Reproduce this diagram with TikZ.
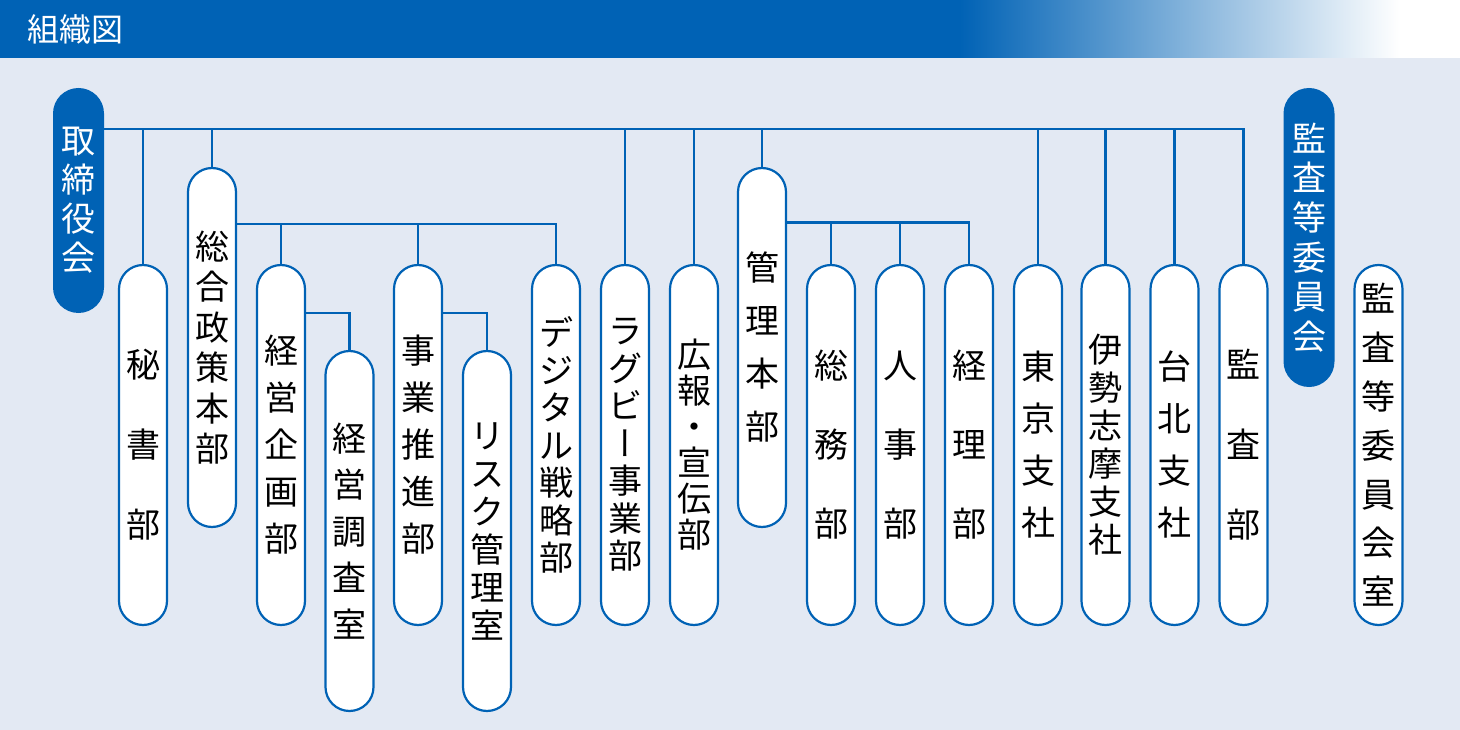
\documentclass[tikz,border=0pt]{standalone}
\usepackage{fontspec}
\newfontfamily\cjk{Noto Sans CJK JP}
\newfontfamily\cjkv[RawFeature=+vert]{Noto Sans CJK JP}
\definecolor{mainblue}{HTML}{0062B5}
\definecolor{bgblue}{HTML}{E3E9F3}
\begin{document}
\begin{tikzpicture}[x=1pt,y=-1pt,
  pitch/.style={font=\cjk\fontsize{34}{#1}\selectfont},
  box/.style={draw=mainblue, line width=2.2pt, fill=white, rounded corners=24pt,
    minimum width=48pt, inner sep=0pt, align=center, text=black},
  boss/.style={fill=mainblue, rounded corners=25.5pt, minimum width=51pt,
    inner sep=0pt, align=center, text=white},
  link/.style={draw=mainblue, line width=2.2pt},
]
\useasboundingbox (0,0) rectangle (1460,730);
% background and header
\fill[bgblue] (0,58) rectangle (1460,730);
\fill[mainblue] (0,0) rectangle (960,58);
\shade[left color=mainblue, right color=white] (959.5,0) rectangle (1400,58);
\fill[white] (1400,0) rectangle (1460,58);
\node[anchor=west, inner sep=0pt, text=white, font=\cjk\fontsize{32}{38}\selectfont] (title) at (27,29) {組織図};

% top bodies
\node[boss, pitch=39, minimum height=225pt] (tori) at (78.5,200.5) {取\\締\\役\\会};
\node[boss, pitch=39.6, minimum height=299pt] (iinkai) at (1309,237.5) {監\\査\\等\\委\\員\\会};

% departments
\node[box, pitch=80, minimum height=360pt] (hisho) at (143,445) {秘\\書\\部};
\node[box, pitch=40.5, minimum height=359pt] (sogo) at (212,347.5) {総\\合\\政\\策\\本\\部};
\node[box, pitch=47, minimum height=360pt] (kikaku) at (281,445) {経\\営\\企\\画\\部};
\node[box, pitch=46.5, minimum height=360pt] (chosa) at (349.5,531) {経\\営\\調\\査\\室};
\node[box, pitch=47, minimum height=360pt] (jigyo) at (418,445) {事\\業\\推\\進\\部};
\node[box, pitch=38, minimum height=360pt] (risk) at (487,531) {リ\\ス\\ク\\管\\理\\室};
\node[box, pitch=37.5, minimum height=360pt] (digital) at (556,445) {デ\\ジ\\タ\\ル\\戦\\略\\部};
\node[box, pitch=37.5, minimum height=360pt] (rugby) at (625,445) {ラ\\グ\\ビ\\{\cjkv ー}\\事\\業\\部};
\node[box, pitch=36, minimum height=360pt] (hoko) at (694,445) {広\\報\\・\\宣\\伝\\部};
\node[box, pitch=53, minimum height=359pt] (kanri) at (762,347.5) {管\\理\\本\\部};
\node[box, pitch=79, minimum height=360pt] (somu) at (831,445) {総\\務\\部};
\node[box, pitch=79, minimum height=360pt] (jinji) at (900,445) {人\\事\\部};
\node[box, pitch=79, minimum height=360pt] (keiri) at (969,445) {経\\理\\部};
\node[box, pitch=52, minimum height=360pt] (tokyo) at (1038,445) {東\\京\\支\\社};
\node[box, pitch=38, minimum height=360pt] (ise) at (1105.5,445) {伊\\勢\\志\\摩\\支\\社};
\node[box, pitch=52, minimum height=360pt] (taipei) at (1174.5,445) {台\\北\\支\\社};
\node[box, pitch=80, minimum height=360pt] (kansa) at (1243.5,445) {監\\査\\部};
\node[box, pitch=48.8, minimum height=360pt] (shitsu) at (1378.5,445) {監\\査\\等\\委\\員\\会\\室};

% connectors
\coordinate (bus) at (0,129);
\coordinate (b1) at (0,224);
\coordinate (b2) at (0,222.5);
\coordinate (b3) at (0,313);
\draw[link] (tori.east |- bus) -| (kansa.north);
\foreach \n in {hisho,sogo,rugby,hoko,kanri,tokyo,ise,taipei}
  \draw[link] (\n.north |- bus) -- (\n.north);
\draw[link] (sogo.east |- b1) -| (digital.north);
\foreach \n in {kikaku,jigyo}
  \draw[link] (\n.north |- b1) -- (\n.north);
\draw[link] (kanri.east |- b2) -| (keiri.north);
\foreach \n in {somu,jinji}
  \draw[link] (\n.north |- b2) -- (\n.north);
\draw[link] (kikaku.east |- b3) -| (chosa.north);
\draw[link] (jigyo.east |- b3) -| (risk.north);
\end{tikzpicture}
\end{document}
